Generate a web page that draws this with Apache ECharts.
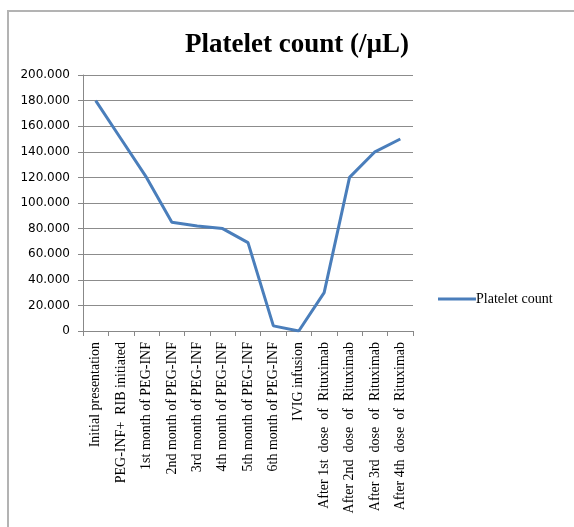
<!DOCTYPE html>
<html><head><meta charset="utf-8">
<script src="https://cdn.jsdelivr.net/npm/echarts@6/dist/echarts.min.js"></script>
<style>html,body{margin:0;padding:0;background:#fff}#c{width:574px;height:527px}</style>
</head><body><div id="c"></div>
<script>
const categories = [
  "Initial presentation",
  "PEG-INF+  RIB initiated",
  "1st month of PEG-INF",
  "2nd month of PEG-INF",
  "3rd month of PEG-INF",
  "4th month of PEG-INF",
  "5th month of PEG-INF",
  "6th month of PEG-INF",
  "IVIG infusion",
  "After 1st  dose  of  Rituximab",
  "After 2nd  dose  of  Rituximab",
  "After 3rd  dose  of  Rituximab",
  "After 4th  dose  of  Rituximab"
];
const plateletCount = [180, 150, 120, 85, 82, 80, 69, 4, 0, 30, 120, 140, 150];
const seriesName = "Platelet count";
const titleText = "Platelet count (/µL)";

const chart = echarts.init(document.getElementById('c'), null, {renderer: 'canvas'});
chart.setOption({
  animation: false,
  backgroundColor: '#fff',
  graphic: [
    {type: 'line', shape: {x1: 8, y1: 11, x2: 8, y2: 527}, style: {stroke: '#b3b3b3', lineWidth: 2}},
    {type: 'line', shape: {x1: 7, y1: 11, x2: 574, y2: 11}, style: {stroke: '#b3b3b3', lineWidth: 2}}
  ],
  title: {
    text: titleText, left: 292, top: 27, textAlign: 'center',
    textStyle: {fontFamily: 'Liberation Serif', fontWeight: 'bold', fontSize: 27, color: '#000'}
  },
  legend: {
    data: [seriesName], left: 433, top: 287, itemWidth: 38, itemHeight: 3, itemGap: 0,
    icon: 'rect',
    textStyle: {fontFamily: 'Liberation Serif', fontSize: 14, color: '#000', padding: [0,0,0,-5]}
  },
  grid: {left: 83, right: 161, top: 75, bottom: 196, containLabel: false},
  xAxis: {
    type: 'category', data: categories, boundaryGap: true,
    axisLine: {lineStyle: {color: '#888', width: 1}},
    axisTick: {show: true, length: 5, lineStyle: {color: '#888'}},
    axisLabel: {rotate: 90, interval: 0, margin: 11, fontFamily: 'Liberation Serif', fontSize: 14, color: '#000'}
  },
  yAxis: {
    type: 'value', min: 0, max: 200, interval: 20,
    axisLine: {show: true, lineStyle: {color: '#888'}},
    axisTick: {show: true, inside: false, length: 5, lineStyle: {color: '#888'}},
    splitLine: {lineStyle: {color: '#8c8c8c', width: 1}},
    axisLabel: {
      margin: 13, fontFamily: 'DejaVu Sans', fontSize: 12, color: '#000',
      formatter: v => v === 0 ? '0' : v.toFixed(3)
    }
  },
  series: [{
    name: seriesName, type: 'line', data: plateletCount,
    symbol: 'none', lineStyle: {color: '#4a7ebb', width: 3}, itemStyle: {color: '#4a7ebb'}
  }]
});
</script></body></html>
